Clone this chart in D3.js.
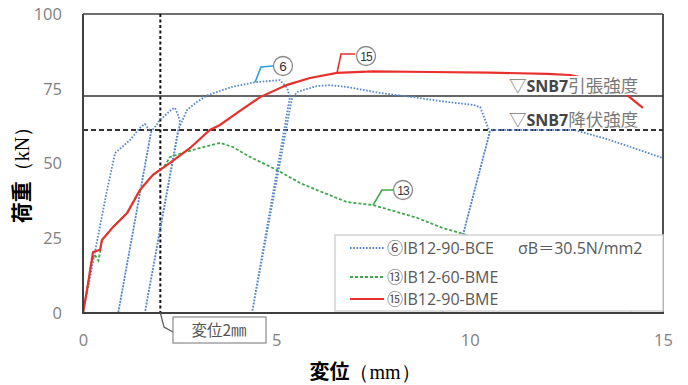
<!DOCTYPE html>
<html>
<head>
<meta charset="utf-8">
<script src="https://cdn.jsdelivr.net/npm/d3@7"></script>
<style>
body { margin: 0; background: #fff; }
svg { display: block; }
</style>
</head>
<body>
<svg id="chart" width="688" height="385"></svg>
<script>
// load vs displacement
const dispTicks = [0, 5, 10, 15];
const loadTicks = [0, 25, 50, 75, 100];

const tensileLoad = 72.6;   // SNB7 引張強度
const yieldLoad = 61.2;     // SNB7 降伏強度
const markDisp = 2;         // 変位2mm

// ⑥IB12-90-BCE (cyclic, unload / reload)
const s6Disp = [0, 0.62, 0.83, 1.22, 1.47, 1.6, 1.68, 1.76, 0.91, 1.76, 1.99, 2.3, 2.38, 2.46, 2.51, 1.6,
    2.46, 2.69, 2.95, 3.23, 3.85, 4.45, 5.09, 5.28, 5.35, 4.37, 5.4, 5.53, 6.05, 6.39, 6.83, 7.68, 8.53,
    9.41, 10.09, 10.27, 10.52, 9.3, 10.52, 10.6, 12.7, 13.6, 15];
const s6Load = [0, 41, 53.5, 57.9, 61.9, 63.2, 61.9, 60.5, 0, 60.5, 64.5, 68.2, 68.6, 66.2, 63.9, 0,
    61.2, 67.9, 70.6, 72.9, 75.6, 77.2, 77.9, 75.3, 72.2, 0, 71.5, 73.9, 75.9, 76.2, 75.6, 73.6, 72.2,
    70.6, 69.6, 68.9, 60.5, 0, 60.5, 61.2, 61.2, 58, 51.8];

// ⑬IB12-60-BME (first part runs under ⑮)
const s13Disp = [0, 0.1, 0.22, 0.3, 0.4, 0.45, 0.49, 0.78, 1.14, 1.47, 1.81, 2.1, 2.25, 2.64, 3.03, 3.54,
    3.88, 4.32, 5.02, 5.61, 6.05, 6.83, 7.5, 8.12, 8.64, 9.31, 9.75, 11, 12.5, 14.2];
const s13Load = [0, 7.4, 17, 19.5, 17.5, 21, 24.4, 28.8, 33.4, 41.1, 46.2, 49, 52.2, 53.8, 55.2, 56.9,
    55.5, 52.2, 47.8, 43.5, 41.1, 37.1, 36.1, 33.8, 31.8, 28.4, 26.8, 21, 12, 0.5];

// ⑮IB12-90-BME
const s15Disp = [0, 0.1, 0.26, 0.44, 0.49, 0.78, 1.14, 1.47, 1.81, 2.25, 2.77, 3.28, 3.54, 4.05, 4.58,
    5.28, 5.87, 6.57, 7.5, 9, 10.5, 12, 12.6, 13.4, 14.07, 14.48];
const s15Load = [0, 7.4, 20.4, 21.1, 24.4, 28.8, 33.4, 41.1, 46.2, 50.2, 55.2, 61.2, 62.9, 67.5, 72.2,
    76.3, 78.6, 80.3, 80.8, 80.6, 80.4, 80, 79.6, 77.5, 72.9, 68.6];

const legendNames = ["⑥IB12-90-BCE", "⑬IB12-60-BME", "⑮IB12-90-BME"];
const legendNote = "σB＝30.5N/mm2";

const svg = d3.select("#chart");
const jp = "'Noto Sans CJK JP', 'Noto Sans', sans-serif";
const latin = "'Open Sans', 'Noto Sans', sans-serif";

const xScale = d3.scaleLinear().domain([0, 15]).range([83, 663]);
const yScale = d3.scaleLinear().domain([0, 100]).range([313, 14]);

const line = d3.line()
    .x(function (d) { return xScale(d[0]); })
    .y(function (d) { return yScale(d[1]); });

function pairs(xs, ys) {
    return xs.map(function (v, i) { return [v, ys[i]]; });
}

// axes
svg.append("g")
    .attr("transform", "translate(62,0)")
    .call(d3.axisLeft(yScale).tickValues(loadTicks).tickSize(0).tickPadding(0))
    .call(function (g) { g.select(".domain").remove(); })
    .selectAll("text")
    .attr("font-family", latin)
    .attr("font-size", 16.5)
    .attr("fill", "#7f7f7f");

svg.append("g")
    .attr("transform", "translate(0,334)")
    .call(d3.axisBottom(xScale).tickValues(dispTicks).tickSize(0).tickPadding(0))
    .call(function (g) { g.select(".domain").remove(); })
    .selectAll("text")
    .attr("font-family", latin)
    .attr("font-size", 16.5)
    .attr("fill", "#7f7f7f");

// frame
svg.append("line").attr("x1", 83).attr("x2", 663).attr("y1", yScale(100)).attr("y2", yScale(100))
    .attr("stroke", "#707070").attr("stroke-width", 2);
svg.append("line").attr("x1", xScale(15)).attr("x2", xScale(15)).attr("y1", yScale(100)).attr("y2", yScale(0))
    .attr("stroke", "#505050").attr("stroke-width", 2);

// strength lines
svg.append("line")
    .attr("x1", xScale(0)).attr("x2", xScale(15))
    .attr("y1", yScale(tensileLoad)).attr("y2", yScale(tensileLoad))
    .attr("stroke", "#333").attr("stroke-width", 1.6);
svg.append("line")
    .attr("x1", xScale(0)).attr("x2", xScale(15))
    .attr("y1", yScale(yieldLoad)).attr("y2", yScale(yieldLoad))
    .attr("stroke", "#333").attr("stroke-width", 1.8).attr("stroke-dasharray", "5,3");

// 2mm marker
svg.append("line")
    .attr("x1", xScale(markDisp)).attr("x2", xScale(markDisp))
    .attr("y1", yScale(100)).attr("y2", yScale(0))
    .attr("stroke", "#111").attr("stroke-width", 2).attr("stroke-dasharray", "3,2.5");

// curves
svg.append("path").datum(pairs(s6Disp, s6Load))
    .attr("d", line).attr("fill", "none")
    .attr("stroke", "#5486cc").attr("stroke-width", 1.8).attr("stroke-dasharray", "1.6,1.6");
svg.append("path").datum(pairs(s13Disp, s13Load))
    .attr("d", line).attr("fill", "none")
    .attr("stroke", "#3ea84c").attr("stroke-width", 1.8).attr("stroke-dasharray", "3,2");
svg.append("path").datum(pairs(s15Disp, s15Load))
    .attr("d", line).attr("fill", "none")
    .attr("stroke", "#e8312c").attr("stroke-width", 2.2);

// axis lines on top of curves
svg.append("line").attr("x1", 83).attr("x2", 83).attr("y1", yScale(100)).attr("y2", yScale(0))
    .attr("stroke", "#404040").attr("stroke-width", 2);
svg.append("line").attr("x1", 82).attr("x2", 664).attr("y1", yScale(0)).attr("y2", yScale(0))
    .attr("stroke", "#404040").attr("stroke-width", 2);

// strength labels
function strengthLabel(y, word) {
    svg.append("rect").attr("x", 508).attr("y", y - 16).attr("width", 140).attr("height", 19).attr("fill", "#fff");
    const t = svg.append("text").attr("x", 509).attr("y", y)
        .attr("font-family", jp).attr("font-size", 17.5).attr("fill", "#7a7a7a");
    t.append("tspan").text("▽");
    t.append("tspan").attr("fill", "#444").attr("font-family", latin)
        .attr("font-weight", "bold").attr("font-size", 16).text("SNB7");
    t.append("tspan").text(word);
}
strengthLabel(92, "引張強度");
strengthLabel(126, "降伏強度");

// callouts ⑥ ⑬ ⑮
function callout(pts, cx, cy, num, color) {
    svg.append("path").attr("d", d3.line()(pts)).attr("fill", "none")
        .attr("stroke", color).attr("stroke-width", 1.6);
    svg.append("circle").attr("cx", cx).attr("cy", cy).attr("r", 9.5)
        .attr("fill", "#fff").attr("stroke", "#8a8a8a").attr("stroke-width", 1.3);
    svg.append("text").attr("x", cx).attr("y", cy + 4.5).attr("text-anchor", "middle")
        .attr("font-family", "'Liberation Sans', sans-serif")
        .attr("font-size", num.length > 1 ? 12 : 13.5).attr("fill", "#333")
        .attr("letter-spacing", num.length > 1 ? -0.8 : 0).text(num);
}
callout([[xScale(4.45), yScale(77.2)], [261, 67], [273, 66]], 283, 66, "6", "#2aa0d8");
callout([[xScale(6.57), yScale(80.3)], [341, 54], [355, 54]], 366, 56, "15", "#e8312c");
callout([[xScale(7.5), yScale(36.1)], [382, 190], [393, 190]], 403, 190, "13", "#3ea84c");

// legend
svg.append("rect").attr("x", 335).attr("y", 235).attr("width", 328).attr("height", 76)
    .attr("fill", "#fff").attr("stroke", "#d4d4d4").attr("stroke-width", 1.5);
const legendStyles = [
    { color: "#5486cc", dash: "1.6,1.6" },
    { color: "#3ea84c", dash: "3,2" },
    { color: "#e8312c", dash: null }
];
const legendRows = [248, 277, 299];
legendNames.forEach(function (name, i) {
    svg.append("line").attr("x1", 350).attr("x2", 384)
        .attr("y1", legendRows[i]).attr("y2", legendRows[i])
        .attr("stroke", legendStyles[i].color).attr("stroke-width", 2)
        .attr("stroke-dasharray", legendStyles[i].dash);
    svg.append("text").attr("x", 387).attr("y", legendRows[i] + 5.5)
        .attr("font-family", "'Open Sans', 'Noto Sans CJK JP', sans-serif")
        .attr("font-size", 16).attr("fill", "#595959").text(name);
});
svg.append("text").attr("x", 518).attr("y", legendRows[0] + 5.5)
    .attr("font-family", "'Open Sans', 'Noto Sans CJK JP', sans-serif")
    .attr("font-size", 16).attr("fill", "#595959").text(legendNote);

// 変位2mm box
svg.append("path").attr("d", d3.line()([[xScale(markDisp), yScale(0)], [164, 327], [173, 332]]))
    .attr("fill", "none").attr("stroke", "#555").attr("stroke-width", 1.2);
svg.append("rect").attr("x", 173).attr("y", 317).attr("width", 93).attr("height", 26)
    .attr("fill", "#fff").attr("stroke", "#8a8a8a").attr("stroke-width", 1.2);
svg.append("text").attr("x", 219).attr("y", 336).attr("text-anchor", "middle")
    .attr("font-family", jp).attr("font-size", 15.5).attr("fill", "#555").text("変位2㎜");

// axis titles
const yTitle = svg.append("text")
    .attr("transform", "translate(29,170) rotate(-90)")
    .attr("text-anchor", "middle").attr("fill", "#000");
yTitle.append("tspan").attr("font-family", jp).attr("font-weight", "bold").attr("font-size", 21).text("荷重");
yTitle.append("tspan").attr("font-family", "'Liberation Serif', 'DejaVu Serif', serif").attr("font-size", 20).text("（kN）");

const xTitle = svg.append("text")
    .attr("x", 365).attr("y", 379)
    .attr("text-anchor", "middle").attr("fill", "#000");
xTitle.append("tspan").attr("font-family", jp).attr("font-weight", "bold").attr("font-size", 20).text("変位");
xTitle.append("tspan").attr("font-family", "'Liberation Serif', 'DejaVu Serif', serif").attr("font-size", 20).text("（mm）");
</script>
</body>
</html>
